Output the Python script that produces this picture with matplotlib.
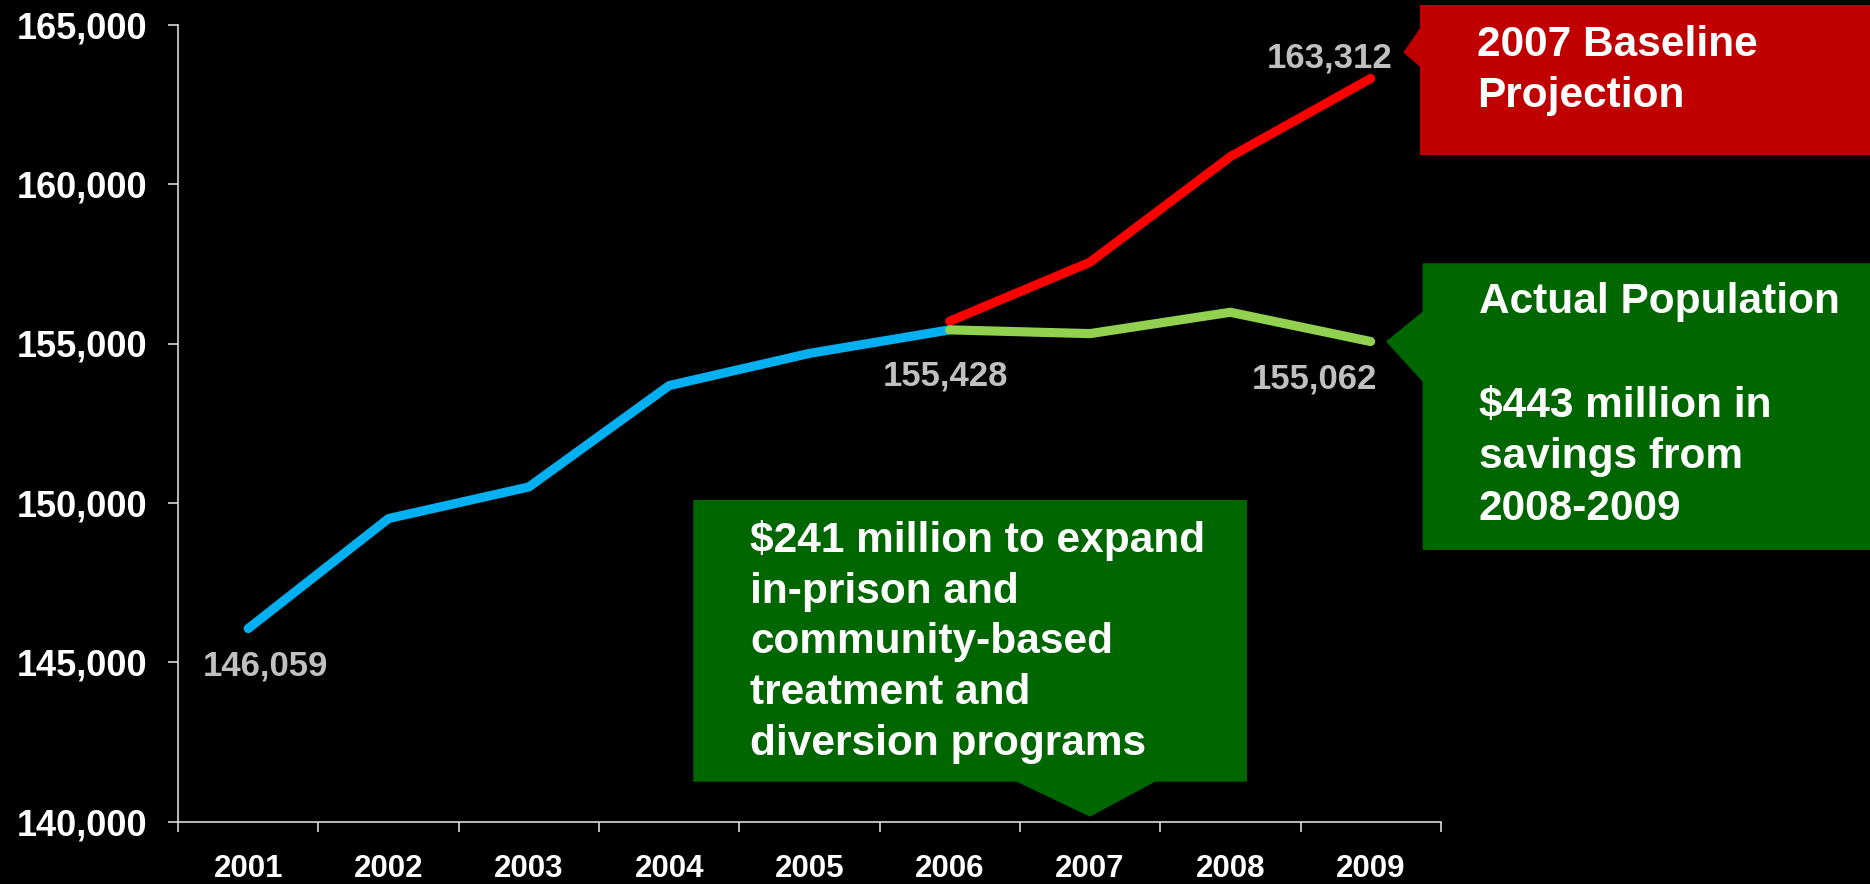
import numpy as np
import matplotlib
matplotlib.use("Agg")
import matplotlib.pyplot as plt
from matplotlib.patches import Polygon

# ---- data -------------------------------------------------------------
years = ["2001", "2002", "2003", "2004", "2005", "2006", "2007", "2008", "2009"]
history = [146059, 149510, 150500, 153680, 154690, 155428]          # 2001-2006
baseline_projection = [155700, 157550, 160860, 163312]                # 2006-2009
actual_population = [155428, 155310, 155980, 155062]                  # 2006-2009
y_ticks = [140000, 145000, 150000, 155000, 160000, 165000]

projection_lines = ["2007 Baseline", "Projection"]
actual_lines = ["Actual Population", "", "$443 million in", "savings from", "2008-2009"]
funding_lines = ["$241 million to expand", "in-prison and", "community-based",
                 "treatment and", "diversion programs"]

# ---- styling ----------------------------------------------------------
W, H, DPI = 1870, 884, 100
BLUE, RED, LIGHT_GREEN = "#00B0F0", "#FF0000", "#92D050"
BOX_RED, BOX_GREEN = "#C00000", "#006600"
LABEL_GREY, AXIS_GREY = "#C0C0C0", "#D9D9D9"
FONT = ["Liberation Sans", "DejaVu Sans"]
plt.rcParams["font.family"] = FONT
plt.rcParams["font.weight"] = "bold"

fig = plt.figure(figsize=(W / DPI, H / DPI), dpi=DPI, facecolor="black")
ax = fig.add_axes([178.1 / W, 1 - 821.7 / H, (1440.8 - 178.1) / W, (821.7 - 24.7) / H])
ax.set_facecolor("black")

x_all = np.arange(len(years))
x_hist = x_all[:len(history)]
x_proj = x_all[len(history) - 1:]

line_kw = dict(lw=6.6, solid_capstyle="round", solid_joinstyle="round")
ax.plot(x_proj, baseline_projection, color=RED, zorder=3, **line_kw)
ax.plot(x_hist, history, color=BLUE, zorder=4, **line_kw)
ax.plot(x_proj, actual_population, color=LIGHT_GREEN, zorder=5, **line_kw)

ax.set_xlim(-0.5, len(years) - 0.5)
ax.set_ylim(y_ticks[0], y_ticks[-1])

# category axis: boundary ticks, labels centred on categories
ax.set_xticks(np.arange(-0.5, len(years), 1.0))
ax.set_xticklabels([])
ax.set_xticks(x_all, minor=True)
ax.set_xticklabels(years, minor=True)
ax.tick_params(axis="x", which="major", direction="out", length=7.2, width=1.2, color=AXIS_GREY)
ax.tick_params(axis="x", which="minor", length=0, pad=23.5, labelsize=22.5, labelcolor="white")

ax.set_yticks(y_ticks)
ax.set_yticklabels([f"{v:,}" for v in y_ticks])
ax.tick_params(axis="y", direction="out", length=7.2, width=1.2, color=AXIS_GREY,
               pad=15, labelsize=26, labelcolor="white")

for side in ("top", "right"):
    ax.spines[side].set_visible(False)
for side in ("left", "bottom"):
    ax.spines[side].set_color(AXIS_GREY)
    ax.spines[side].set_linewidth(1.2)

# ---- value labels -----------------------------------------------------
lab_kw = dict(textcoords="offset pixels", color=LABEL_GREY, fontsize=25,
              fontweight="bold", va="baseline", zorder=6)
ax.annotate(f"{history[0]:,}", (x_hist[0], history[0]), xytext=(17, -47), ha="center", **lab_kw)
ax.annotate(f"{history[-1]:,}", (x_hist[-1], history[-1]), xytext=(-4, -56), ha="center", **lab_kw)
ax.annotate(f"{actual_population[-1]:,}", (x_proj[-1], actual_population[-1]),
            xytext=(6, -47), ha="right", **lab_kw)
ax.annotate(f"{baseline_projection[-1]:,}", (x_proj[-1], baseline_projection[-1]),
            xytext=(22, 11), ha="right", **lab_kw)


# ---- callout boxes ----------------------------------------------------
def fig_xy(px, py):
    """Pixel position measured from the top-left corner -> figure fraction."""
    return (px / W, 1 - py / H)


def data_px(x, y):
    """Data coordinates -> pixel position measured from the top-left corner."""
    dx, dy = ax.transData.transform((x, y))
    return dx, H - dy


def callout(points, color):
    poly = Polygon([fig_xy(*p) for p in points], closed=True, facecolor=color,
                   edgecolor="none", transform=fig.transFigure, zorder=1)
    fig.patches.append(poly)


def text_block(lines, left, first_baseline, step):
    for i, line in enumerate(lines):
        if line:
            fig.text(*fig_xy(left, first_baseline + i * step), line, color="white",
                     fontsize=30.5, fontweight="bold", ha="left", va="baseline")


# red projection box, pointer aimed at the projection label
_, red_tip_y = data_px(x_proj[-1], baseline_projection[-1])
red_tip_y -= 26
callout([(1420, 5), (W + 5, 5), (W + 5, 155), (1420, 155), (1420, 66.7),
         (1403.3, red_tip_y), (1420, 28.3)], BOX_RED)
text_block(projection_lines, 1477, 56, 51.3)

# green box for the actual population, pointer aimed at the 2009 value
_, green_tip_y = data_px(x_proj[-1], actual_population[-1])
callout([(1422.7, 263.3), (W + 5, 263.3), (W + 5, 550), (1422.7, 550), (1422.7, 381.7),
         (1386, green_tip_y), (1422.7, 311.7)], BOX_GREEN)
text_block(actual_lines, 1479, 313.3, 51.7)

# funding box, pointer aimed at 2007 on the category axis
tip_x, _ = data_px(x_all[6], y_ticks[0])
callout([(693.3, 500), (1247, 500), (1247, 781.7), (1155, 781.7), (tip_x, 816.7),
         (1016.7, 781.7), (693.3, 781.7)], BOX_GREEN)
text_block(funding_lines, 750, 551.7, 50.8)

fig.savefig("out.png", dpi=DPI, facecolor="black")
